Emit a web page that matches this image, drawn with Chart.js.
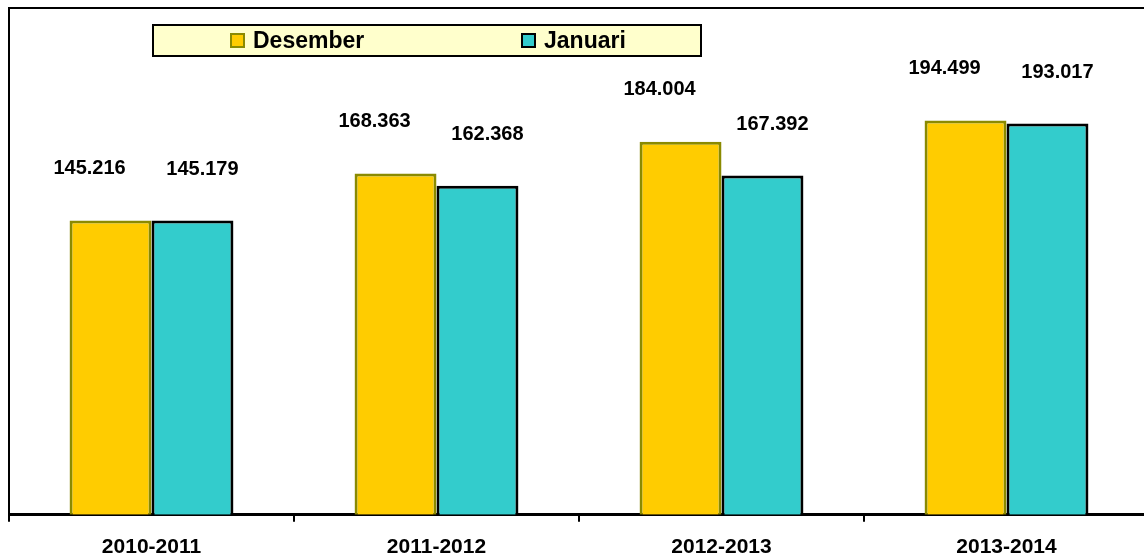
<!DOCTYPE html>
<html>
<head>
<meta charset="utf-8">
<script src="https://cdn.jsdelivr.net/npm/chart.js@4/dist/chart.umd.min.js"></script>
<style>
  html, body { margin: 0; padding: 0; background: #fff; overflow: hidden; }
  #wrap { width: 1149px; height: 556px; position: relative; }
</style>
</head>
<body>
<div id="wrap"><canvas id="c" width="1149" height="556"></canvas></div>
<script>
const categories = ['2010-2011', '2011-2012', '2012-2013', '2013-2014'];
const seriesNames = ['Desember', 'Januari'];
const desemberValues = [145216, 168363, 184004, 194499];
const januariValues = [145179, 162368, 167392, 193017];
const yMin = 0;
const yMax = 250000;

const FONT = '"Liberation Sans", Arial, Helvetica, sans-serif';

function fmt(v) {
  return String(Math.round(v)).replace(/\B(?=(\d{3})+(?!\d))/g, '.');
}

const labelOffsets = [{dx: -21, dy: -52}, {dx: 10, dy: -51}];

const valueLabels = {
  id: 'valueLabels',
  afterDatasetsDraw(chart) {
    const ctx = chart.ctx;
    ctx.save();
    ctx.font = 'bold 20px ' + FONT;
    ctx.fillStyle = '#000';
    ctx.textAlign = 'center';
    ctx.textBaseline = 'middle';
    chart.data.datasets.forEach((ds, i) => {
      const meta = chart.getDatasetMeta(i);
      const off = labelOffsets[i];
      meta.data.forEach((el, j) => {
        ctx.fillText(fmt(ds.data[j]), el.x + off.dx, el.y + off.dy);
      });
    });
    ctx.restore();
  }
};

const frameAndLegend = {
  id: 'frameAndLegend',
  afterDraw(chart) {
    const ctx = chart.ctx;
    const a = chart.chartArea;
    ctx.save();
    ctx.strokeStyle = '#000';
    ctx.lineWidth = 2;
    ctx.beginPath();
    ctx.moveTo(a.left - 1, a.top);
    ctx.lineTo(chart.width, a.top);
    ctx.stroke();
    const bx = 153, by = 25, bw = 548, bh = 31;
    ctx.fillStyle = '#FFFFCC';
    ctx.fillRect(bx, by, bw, bh);
    ctx.strokeStyle = '#000';
    ctx.lineWidth = 2;
    ctx.strokeRect(bx, by, bw, bh);
    const itemX = [231, 522];
    ctx.font = 'bold 23px ' + FONT;
    ctx.textBaseline = 'middle';
    ctx.textAlign = 'left';
    chart.data.datasets.forEach((ds, i) => {
      const sx = itemX[i], sy = 34;
      ctx.fillStyle = ds.backgroundColor;
      ctx.fillRect(sx, sy, 13, 13);
      ctx.strokeStyle = ds.borderColor;
      ctx.lineWidth = 2;
      ctx.strokeRect(sx, sy, 13, 13);
      ctx.fillStyle = '#000';
      ctx.fillText(ds.label, sx + 22, by + bh / 2 + 1);
    });
    ctx.restore();
  }
};

new Chart(document.getElementById('c'), {
  type: 'bar',
  data: {
    labels: categories,
    datasets: [
      {
        label: seriesNames[0],
        data: desemberValues,
        backgroundColor: '#FFCC00',
        borderColor: '#8A8A00',
        borderWidth: 3,
        borderSkipped: 'bottom'
      },
      {
        label: seriesNames[1],
        data: januariValues,
        backgroundColor: '#33CCCC',
        borderColor: '#000000',
        borderWidth: 3,
        borderSkipped: 'bottom'
      }
    ]
  },
  options: {
    responsive: false,
    animation: false,
    devicePixelRatio: 1,
    layout: { padding: { left: 9, top: 8, right: 0, bottom: -17 } },
    datasets: { bar: { barPercentage: 1, categoryPercentage: 0.575 } },
    plugins: {
      legend: { display: false },
      tooltip: { enabled: false },
      title: { display: false }
    },
    scales: {
      x: {
        offset: true,
        grid: {
          display: true,
          drawOnChartArea: false,
          drawTicks: true,
          tickLength: 7,
          color: '#000',
          lineWidth: 2,
          offset: true
        },
        border: { display: true, color: '#000', width: 3 },
        ticks: {
          color: '#000',
          font: { family: FONT, size: 21, weight: 'bold' },
          padding: 13,
          maxRotation: 0,
          autoSkip: false
        }
      },
      y: {
        min: yMin,
        max: yMax,
        grid: { display: false, drawTicks: false },
        border: { display: true, color: '#000', width: 2 },
        ticks: { display: false }
      }
    }
  },
  plugins: [valueLabels, frameAndLegend]
});
</script>
</body>
</html>
